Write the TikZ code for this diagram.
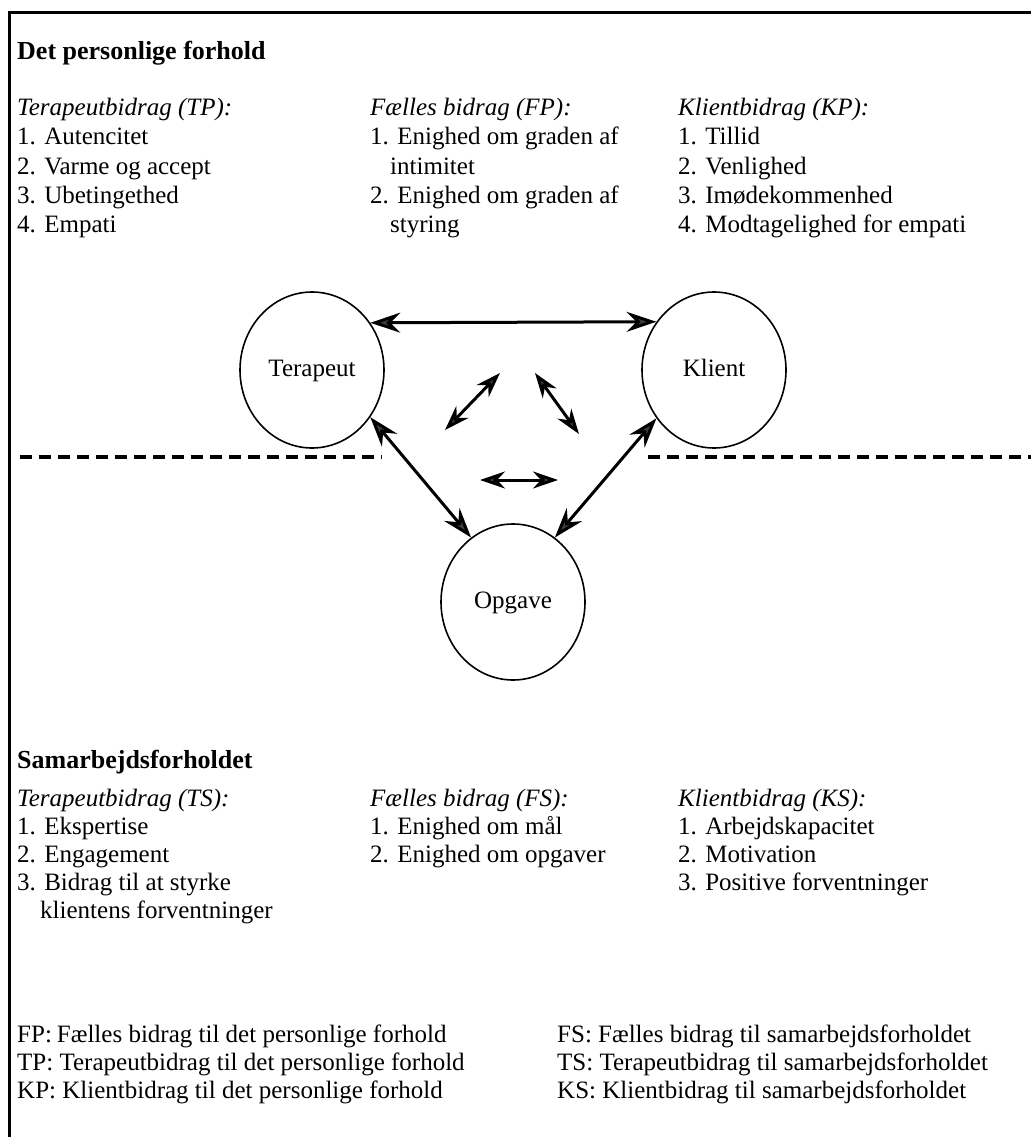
\documentclass[tikz,border=0pt]{standalone}
\usepackage{fontspec}
\setmainfont{Liberation Serif}
\usetikzlibrary{arrows.meta,shapes.geometric}
\begin{document}
\begin{tikzpicture}[x=1pt,y=-1pt,
  txt/.style={anchor=base west, inner sep=0pt, font=\fontsize{25}{29}\selectfont},
  hd/.style={anchor=base west, inner sep=0pt, font=\fontsize{25}{29}\selectfont\itshape},
  ttl/.style={anchor=base west, inner sep=0pt, font=\fontsize{26}{30}\selectfont\bfseries},
  blob/.style={draw, ellipse, minimum width=144pt, minimum height=156pt, inner sep=0pt, line width=1.6pt, text height=17pt, text depth=5pt, font=\fontsize{25}{29}\selectfont},
  bigtip/.tip={Stealth[length=30pt,width=20pt,inset=10pt,fill=black!75]},
  smalltip/.tip={Stealth[length=25pt,width=17pt,inset=8pt,fill=black!75]},
  link/.style={line width=3pt, bigtip-bigtip},
  minilink/.style={line width=3pt, smalltip-smalltip},
  divider/.style={line width=3.5pt, dash pattern=on 12pt off 7pt},
  frame/.style={line width=3pt}
]
\useasboundingbox (0,0) rectangle (1031,1137);
\fill[white] (0,0) rectangle (1031,1137);
\draw[frame] (1031,13) -| (9,1137);

% upper section
\node[ttl] (t1) at (17,60) {Det personlige forhold};
\node[hd] (tph) at (17,116) {Terapeutbidrag (TP):};
\node[txt] (tp1) at (17,145) {1. Autencitet};
\node[txt] (tp2) at (17,174) {2. Varme og accept};
\node[txt] (tp3) at (17,203) {3. Ubetingethed};
\node[txt] (tp4) at (17,232) {4. Empati};

\node[hd] (fph) at (370,116) {Fælles bidrag (FP):};
\node[txt] (fp1) at (370,145) {1. Enighed om graden af};
\node[txt] (fp1b) at (390,174) {intimitet};
\node[txt] (fp2) at (370,203) {2. Enighed om graden af};
\node[txt] (fp2b) at (390,232) {styring};

\node[hd] (kph) at (678,116) {Klientbidrag (KP):};
\node[txt] (kp1) at (678,145) {1. Tillid};
\node[txt] (kp2) at (678,174) {2. Venlighed};
\node[txt] (kp3) at (678,203) {3. Imødekommenhed};
\node[txt] (kp4) at (678,232) {4. Modtagelighed for empati};

% triangle
\node[blob] (ter) at (312,370) {Terapeut};
\node[blob] (kli) at (714,370) {Klient};
\node[blob] (opg) at (513,602) {Opgave};

\draw[link] (ter.39.6) -- (kli.140.4);
\draw[link] (ter.-39.6) -- (opg.123.5);
\draw[link] (kli.-140) -- (opg.57.5);

\coordinate (la) at (445,430);
\coordinate (lb) at (500,373);
\coordinate (ra) at (535,373);
\coordinate (rb) at (579,434);
\coordinate (ha) at (480,480);
\coordinate (hb) at (558,480);
\draw[minilink] (la) -- (lb);
\draw[minilink] (ra) -- (rb);
\draw[minilink] (ha) -- (hb);

\coordinate (d1a) at (20,457);
\coordinate (d1b) at (382,457);
\coordinate (d2a) at (648,457);
\coordinate (d2b) at (1031,457);
\draw[divider] (d1a) -- (d1b);
\draw[divider] (d2a) -- (d2b);

% lower section
\node[ttl] (t2) at (17,768) {Samarbejdsforholdet};
\node[hd] (tsh) at (17,806) {Terapeutbidrag (TS):};
\node[txt] (ts1) at (17,834) {1. Ekspertise};
\node[txt] (ts2) at (17,862) {2. Engagement};
\node[txt] (ts3) at (17,890) {3. Bidrag til at styrke};
\node[txt] (ts3b) at (40,918) {klientens forventninger};

\node[hd] (fsh) at (370,806) {Fælles bidrag (FS):};
\node[txt] (fs1) at (370,834) {1. Enighed om mål};
\node[txt] (fs2) at (370,862) {2. Enighed om opgaver};

\node[hd] (ksh) at (678,806) {Klientbidrag (KS):};
\node[txt] (ks1) at (678,834) {1. Arbejdskapacitet};
\node[txt] (ks2) at (678,862) {2. Motivation};
\node[txt] (ks3) at (678,890) {3. Positive forventninger};

% legend
\node[txt] (lfp) at (17,1042) {FP:\hspace{5pt}Fælles bidrag til det personlige forhold};
\node[txt] (ltp) at (17,1070) {TP: Terapeutbidrag til det personlige forhold};
\node[txt] (lkp) at (17,1098) {KP: Klientbidrag til det personlige forhold};
\node[txt] (lfs) at (557,1042) {FS: Fælles bidrag til samarbejdsforholdet};
\node[txt] (lts) at (557,1070) {TS: Terapeutbidrag til samarbejdsforholdet};
\node[txt] (lks) at (557,1098) {KS: Klientbidrag til samarbejdsforholdet};
\end{tikzpicture}
\end{document}
